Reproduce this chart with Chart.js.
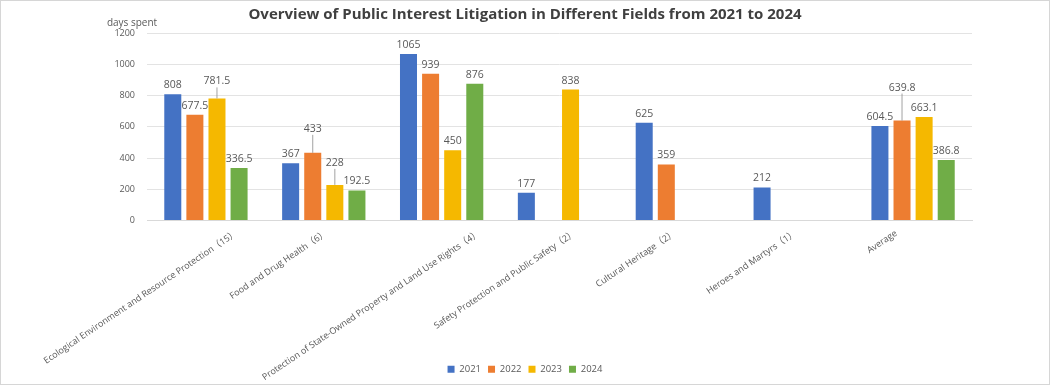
<!DOCTYPE html>
<html>
<head>
<meta charset="utf-8">
<script src="https://cdn.jsdelivr.net/npm/chart.js@4/dist/chart.umd.min.js"></script>
<style>
  html, body { margin: 0; padding: 0; background: #fff; }
  #wrap { width: 1050px; height: 385px; box-sizing: border-box; border: 1px solid #d6d6d6; position: relative; }
</style>
</head>
<body>
<div id="wrap"><canvas id="chart"></canvas></div>
<script>
const categories = [
  'Ecological Environment and Resource Protection（15）',
  'Food and Drug Health（6）',
  'Protection of State-Owned Property and Land Use Rights（4）',
  'Safety Protection and Public Safety（2）',
  'Cultural Heritage（2）',
  'Heroes and Martyrs（1）',
  'Average'
];
const years = ['2021', '2022', '2023', '2024'];
const v2021 = [808, 367, 1065, 177, 625, 212, 604.5];
const v2022 = [677.5, 433, 939, null, 359, null, 639.8];
const v2023 = [781.5, 228, 450, 838, null, null, 663.1];
const v2024 = [336.5, 192.5, 876, null, null, null, 386.8];
const yTicks = [0, 200, 400, 600, 800, 1000, 1200];

const COLORS = ['#4472C4', '#ED7D31', '#F5B800', '#70AD47'];
const TEXT = '#595959';
const FONT = "'Open Sans', 'Noto Sans', 'Noto Sans CJK SC', sans-serif";
const ANGLE = 34 * Math.PI / 180;

// labels lifted off the bar with a leader line: "dataset-index": extra lift in px
const LIFT = { '2-0': 8, '1-1': 15, '2-1': 13, '1-6': 24 };

const valueLabels = {
  id: 'valueLabels',
  afterDatasetsDraw(chart) {
    const ctx = chart.ctx;
    ctx.save();
    ctx.font = '10.5px ' + FONT;
    ctx.fillStyle = TEXT;
    ctx.textAlign = 'center';
    ctx.textBaseline = 'middle';
    chart.data.datasets.forEach((ds, di) => {
      chart.getDatasetMeta(di).data.forEach((bar, i) => {
        const v = ds.data[i];
        if (v == null) return;
        const lift = LIFT[di + '-' + i] || 0;
        const ly = bar.y - 9 - lift;
        if (lift) {
          ctx.strokeStyle = '#8c8c8c';
          ctx.lineWidth = 0.8;
          ctx.beginPath();
          ctx.moveTo(bar.x, ly + 6);
          ctx.lineTo(bar.x, bar.y);
          ctx.stroke();
        }
        ctx.fillText(String(v), bar.x, ly);
      });
    });
    ctx.restore();
  }
};

// axis name above the y axis + slanted category names (placed the way the office chart does)
const extraText = {
  id: 'extraText',
  afterDraw(chart) {
    const ctx = chart.ctx;
    const xs = chart.scales.x;
    ctx.save();
    ctx.fillStyle = TEXT;
    ctx.font = '10px ' + FONT;
    ctx.textAlign = 'center';
    ctx.textBaseline = 'middle';
    ctx.fillText('days spent', 131, chart.chartArea.top - 10);

    ctx.font = '9px ' + FONT;
    ctx.textAlign = 'right';
    categories.forEach((name, i) => {
      const w = ctx.measureText(name).width * Math.cos(ANGLE);
      const x = xs.getPixelForTick(i) - 25 + 0.29 * w;
      ctx.save();
      ctx.translate(x, chart.chartArea.bottom + 12);
      ctx.rotate(-ANGLE);
      ctx.fillText(name, 0, 0);
      ctx.restore();
    });
    ctx.restore();
  }
};

const series = [v2021, v2022, v2023, v2024];

new Chart(document.getElementById('chart'), {
  type: 'bar',
  data: {
    labels: categories,
    datasets: years.map((yr, k) => ({
      label: yr,
      data: series[k],
      backgroundColor: COLORS[k],
      borderWidth: 0,
      categoryPercentage: 0.75,
      barPercentage: 0.77
    }))
  },
  options: {
    responsive: true,
    maintainAspectRatio: false,
    animation: false,
    layout: { padding: { top: 4, right: 0, left: 0, bottom: 0 } },
    plugins: {
      title: {
        display: true,
        text: 'Overview of Public Interest Litigation in Different Fields from 2021 to 2024',
        color: '#404040',
        font: { family: FONT, size: 15, weight: 'bold' },
        padding: { top: 1, bottom: 9 }
      },
      legend: {
        position: 'bottom',
        labels: {
          boxWidth: 7, boxHeight: 7, color: TEXT, padding: 7,
          font: { family: FONT, size: 9.5 }
        }
      },
      tooltip: { enabled: false }
    },
    scales: {
      x: {
        grid: { display: false },
        border: { color: '#d9d9d9' },
        ticks: { display: false },
        afterFit(scale) { scale.height = 137; }
      },
      y: {
        min: 0, max: 1200,
        afterBuildTicks(scale) { scale.ticks = yTicks.map(v => ({ value: v })); },
        grid: { color: '#e3e3e3', drawTicks: false },
        border: { display: false },
        ticks: { color: TEXT, font: { family: FONT, size: 9 }, padding: 12, callback: v => String(v) },
        afterFit(scale) { scale.width = 146; }
      },
      pad: {
        position: 'right',
        grid: { display: false },
        border: { display: false },
        ticks: { display: false },
        afterFit(scale) { scale.width = 77; }
      }
    }
  },
  plugins: [valueLabels, extraText]
});
</script>
</body>
</html>
